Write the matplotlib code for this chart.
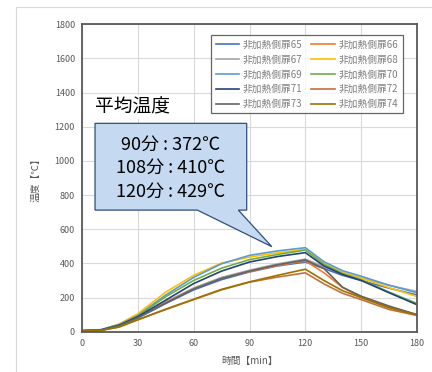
import matplotlib
matplotlib.use("Agg")
import matplotlib.pyplot as plt
from matplotlib.patches import Polygon
from matplotlib.lines import Line2D

plt.rcParams['font.family'] = ['Noto Sans CJK JP', 'DejaVu Sans']

time_min = [0, 10, 20, 30, 45, 60, 75, 90, 105, 120, 130, 140, 150, 165, 180]
series_names = ["非加熱側扉65", "非加熱側扉66", "非加熱側扉67", "非加熱側扉68", "非加熱側扉69",
                "非加熱側扉70", "非加熱側扉71", "非加熱側扉72", "非加熱側扉73", "非加熱側扉74"]
s65 = [5, 8, 35, 80, 165, 245, 305, 350, 385, 408, 370, 330, 300, 255, 215]
s66 = [5, 8, 36, 84, 175, 255, 315, 352, 388, 415, 345, 260, 200, 145, 100]
s67 = [5, 8, 35, 82, 170, 255, 318, 360, 397, 425, 380, 340, 315, 272, 235]
s68 = [6, 10, 45, 105, 232, 330, 402, 437, 462, 482, 400, 348, 315, 258, 206]
s69 = [8, 12, 42, 95, 215, 318, 398, 447, 473, 492, 410, 357, 325, 272, 228]
s70 = [6, 10, 40, 92, 205, 300, 372, 422, 452, 478, 395, 340, 305, 232, 165]
s71 = [6, 10, 38, 88, 185, 282, 355, 408, 440, 463, 385, 335, 300, 228, 158]
s72 = [5, 7, 28, 70, 130, 188, 245, 290, 320, 345, 280, 225, 188, 130, 95]
s73 = [5, 8, 35, 82, 168, 250, 312, 355, 392, 420, 370, 260, 208, 150, 100]
s74 = [5, 7, 28, 70, 132, 190, 248, 292, 330, 366, 300, 240, 200, 140, 98]
series_values = [s65, s66, s67, s68, s69, s70, s71, s72, s73, s74]
colors = ["#4472C4", "#ED7D31", "#A5A5A5", "#FFC000", "#5B9BD5",
          "#70AD47", "#264478", "#C5703A", "#636363", "#997300"]

x_ticks = [0, 30, 60, 90, 120, 150, 180]
y_ticks = [0, 200, 400, 600, 800, 1000, 1200, 1400, 1600, 1800]
callout_title = "平均温度"
callout_lines = ["90分 : 372℃", "108分 : 410℃", "120分 : 429℃"]

fig = plt.figure(figsize=(4.32, 3.72), dpi=100)
fig.patch.set_facecolor("white")
ax = fig.add_axes([0.1898, 0.1083, 0.7755, 0.8264])

# outer chart border (top & left visible)
fig.add_artist(Line2D([16/432, 16/432], [0, 1 - 7/372], color="#D9D9D9", lw=0.8, transform=fig.transFigure))
fig.add_artist(Line2D([16/432, 1], [1 - 7/372, 1 - 7/372], color="#D9D9D9", lw=0.8, transform=fig.transFigure))

handles = []
for name, vals, c in zip(series_names, series_values, colors):
    h, = ax.plot(time_min, vals, color=c, lw=1.2, label=name)
    handles.append(h)

ax.set_xlim(0, 180)
ax.set_ylim(0, 1800)
ax.set_xticks(x_ticks)
ax.set_yticks(y_ticks)
ax.grid(True, color="#D9D9D9", lw=0.8)
ax.set_axisbelow(True)
for sp in ax.spines.values():
    sp.set_color("#595959")
    sp.set_linewidth(1.3)
ax.tick_params(length=0, labelsize=6.5, colors="#595959", pad=5)
ax.set_xlabel("時間【min】", fontsize=7, color="#595959", labelpad=6)
ax.set_ylabel("温度【℃】", fontsize=7, color="#595959", labelpad=10)

# row-major legend order (65 66 / 67 68 / ...)
order = [0, 2, 4, 6, 8, 1, 3, 5, 7, 9]
leg = ax.legend([handles[i] for i in order], [series_names[i] for i in order],
                ncol=2, loc="upper right", bbox_to_anchor=(0.972, 0.98), fontsize=7,
                frameon=True, fancybox=False, edgecolor="#404040", handlelength=2.4,
                columnspacing=0.9, labelspacing=0.5, borderpad=0.45, handletextpad=0.4)
leg.get_frame().set_linewidth(0.9)
for t in leg.get_texts():
    t.set_color("#7F7F7F")

# callout
box = Polygon([(7, 1220), (88.5, 1220), (88.5, 712), (84, 712), (102, 498), (62, 712), (7, 712)],
              closed=True, facecolor="#C5D9F1", edgecolor="#2F4F7F", lw=0.9, zorder=5)
ax.add_patch(box)
ax.text(7, 1316, callout_title, fontsize=13.5, ha="left", va="center", zorder=6,
        bbox=dict(facecolor="white", edgecolor="none", pad=1))
for ly, line in zip([1093, 958, 818], callout_lines):
    ax.text(47.7, ly, line, fontsize=13, ha="center", va="center", zorder=6, color="black")

fig.savefig("out.png", dpi=100, facecolor="white")
